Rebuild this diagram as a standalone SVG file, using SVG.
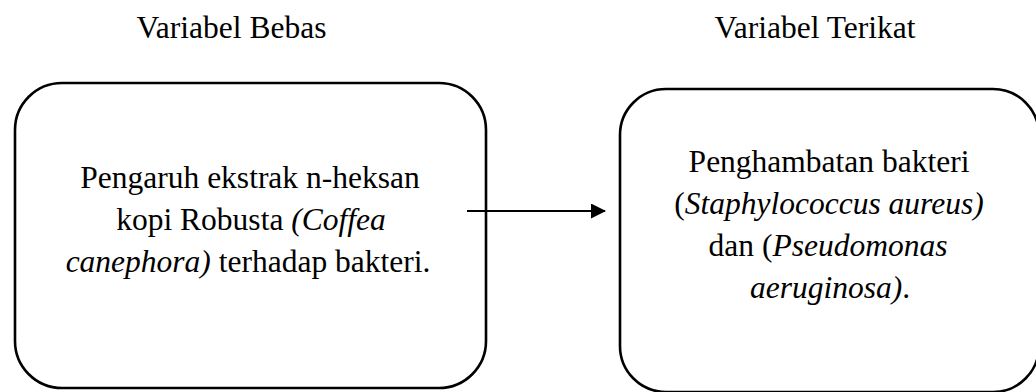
<svg xmlns="http://www.w3.org/2000/svg" width="1036" height="392" viewBox="0 0 1036 392">
  <style>
    text { font-family: 'Liberation Serif', Tinos, 'DejaVu Serif', serif; font-size: 31.5px; fill: #000; text-anchor: middle; }
    .box { fill: #fff; stroke: #000; stroke-width: 2.6; }
    .it { font-style: italic; }
    .conn { stroke: #000; stroke-width: 2.2; fill: none; }
  </style>
  <defs>
    <marker id="arrowhead" markerWidth="16" markerHeight="16" refX="14" refY="7.5" orient="auto" markerUnits="userSpaceOnUse">
      <polygon points="0,0 15,7.5 0,15" fill="#000"/>
    </marker>
  </defs>
  <rect width="1036" height="392" fill="#fff"/>

  <!-- column headings -->
  <text x="231.5" y="38">Variabel Bebas</text>
  <text x="815" y="38">Variabel Terikat</text>

  <!-- independent variable -->
  <g id="node-bebas">
    <rect class="box" x="15" y="83" width="471" height="305" rx="47" ry="47"/>
    <text x="250" y="188">Pengaruh ekstrak n-heksan</text>
    <text x="251" y="230">kopi Robusta <tspan class="it">(Coffea</tspan></text>
    <text x="248" y="272"><tspan class="it">canephora)</tspan> terhadap bakteri.</text>
  </g>

  <!-- dependent variable -->
  <g id="node-terikat">
    <rect class="box" x="620" y="89" width="419" height="303" rx="46" ry="46"/>
    <text x="829" y="172">Penghambatan bakteri</text>
    <text x="829" y="214">(<tspan class="it">Staphylococcus aureus)</tspan></text>
    <text x="828" y="256">dan (<tspan class="it">Pseudomonas</tspan></text>
    <text x="830" y="298"><tspan class="it">aeruginosa)</tspan>.</text>
  </g>

  <g id="connectors">
    <line class="conn" x1="467" y1="211" x2="605" y2="211" marker-end="url(#arrowhead)"/>
  </g>
</svg>
